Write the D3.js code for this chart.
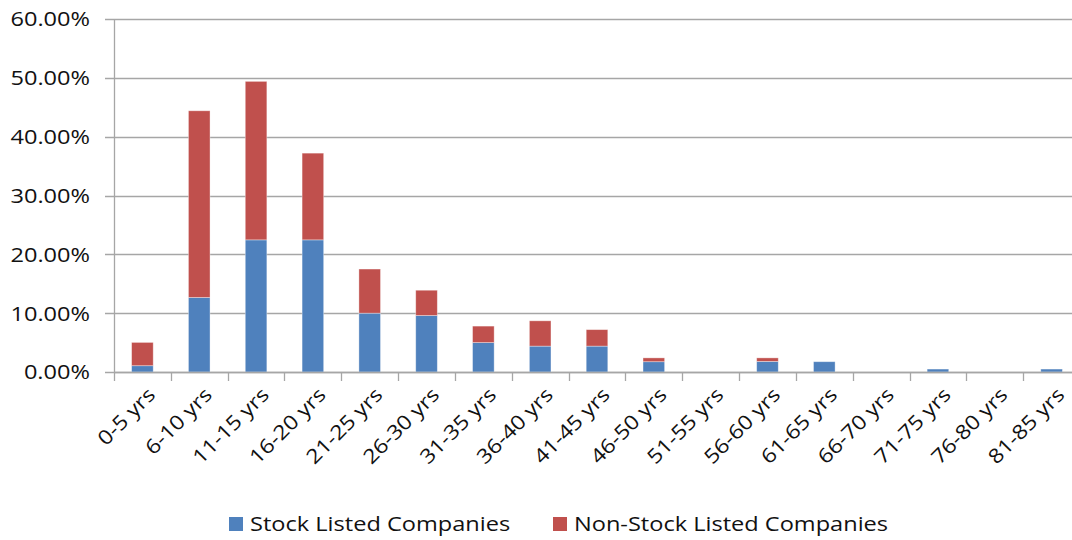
<!DOCTYPE html>
<html>
<head>
<meta charset="utf-8">
<script src="https://cdn.jsdelivr.net/npm/d3@7"></script>
<style>
  body { margin: 0; background: #fff; }
  text { font-family: "Open Sans", sans-serif; fill: #111; }
</style>
</head>
<body>
<div id="chart"></div>
<script>
// data (percent)
var categories = ["0-5 yrs", "6-10 yrs", "11-15 yrs", "16-20 yrs", "21-25 yrs", "26-30 yrs",
  "31-35 yrs", "36-40 yrs", "41-45 yrs", "46-50 yrs", "51-55 yrs", "56-60 yrs",
  "61-65 yrs", "66-70 yrs", "71-75 yrs", "76-80 yrs", "81-85 yrs"];
var stockListed = [1.07, 12.67, 22.46, 22.46, 10.0, 9.6, 5.0, 4.4, 4.4, 1.75, 0, 1.8, 1.75, 0, 0.5, 0, 0.5];
var nonStockListed = [3.96, 31.73, 26.94, 14.74, 7.5, 4.3, 2.8, 4.3, 2.8, 0.65, 0, 0.6, 0, 0, 0, 0, 0];
var seriesNames = ["Stock Listed Companies", "Non-Stock Listed Companies"];
var colors = ["#4f81bd", "#c0504d"];
var yTicks = [0, 10, 20, 30, 40, 50, 60];

// set the dimensions and margins of the graph
var W = 1072, H = 540;
var margin = {top: 19, left: 114, bottom: 372, right: 1080};
var sx = 1.15; // the picture's text is stretched sideways

var svg = d3.select("#chart").append("svg")
    .attr("width", W)
    .attr("height", H);

// set the ranges
var x = d3.scaleBand().domain(categories).range([margin.left, margin.right]).paddingInner(0.62).paddingOuter(0.31);
var xb = d3.scaleBand().domain(categories).range([margin.left, margin.right]);
var y = d3.scaleLinear().domain([0, 60]).range([margin.bottom, margin.top]);

// gridlines (with the little tick stubs left of the axis)
svg.append("g")
  .selectAll("line")
  .data(yTicks)
  .enter().append("line")
    .attr("x1", margin.left - 9)
    .attr("x2", W)
    .attr("y1", function(d) { return Math.round(y(d)) + 0.5; })
    .attr("y2", function(d) { return Math.round(y(d)) + 0.5; })
    .attr("stroke", "#a6a6a6")
    .attr("stroke-width", 1.3);

// y labels
svg.append("g")
  .selectAll("text")
  .data(yTicks)
  .enter().append("text")
    .attr("transform", function(d) { return "translate(90," + y(d) + ") scale(" + sx + ",1)"; })
    .attr("dy", "0.36em")
    .attr("text-anchor", "end")
    .style("font-size", "20.5px")
    .text(function(d) { return d3.format(".2f")(d) + "%"; });

// stack the data
var rows = categories.map(function(c, i) { return {cat: c, s: stockListed[i], n: nonStockListed[i]}; });
var stacked = d3.stack().keys(["s", "n"])(rows);

svg.append("g")
  .selectAll("g")
  .data(stacked)
  .enter().append("g")
    .attr("fill", function(d, i) { return colors[i]; })
  .selectAll("rect")
  .data(function(d) { return d; })
  .enter().append("rect")
    .attr("x", function(d) { return x(d.data.cat); })
    .attr("width", x.bandwidth())
    .attr("y", function(d) { return y(d[1]); })
    .attr("height", function(d) { return Math.max(0, y(d[0]) - y(d[1])); })
    .attr("stroke", "rgba(255,255,255,0.45)")
    .attr("stroke-width", 0.8);

// y axis line
svg.append("line")
    .attr("x1", margin.left + 0.5).attr("x2", margin.left + 0.5)
    .attr("y1", margin.top).attr("y2", margin.bottom)
    .attr("stroke", "#a6a6a6").attr("stroke-width", 1.3);

// x axis line and ticks between categories
var xAxis = svg.append("g");
xAxis.append("line")
    .attr("x1", margin.left).attr("x2", W)
    .attr("y1", Math.round(y(0)) + 0.5).attr("y2", Math.round(y(0)) + 0.5)
    .attr("stroke", "#a6a6a6").attr("stroke-width", 1.3);
xAxis.selectAll("line.tick")
  .data(categories)
  .enter().append("line")
    .attr("class", "tick")
    .attr("x1", function(d) { return Math.round(xb(d)) + 0.5; })
    .attr("x2", function(d) { return Math.round(xb(d)) + 0.5; })
    .attr("y1", margin.bottom)
    .attr("y2", margin.bottom + 9)
    .attr("stroke", "#a6a6a6").attr("stroke-width", 1.3);

// rotated x labels
xAxis.selectAll("text")
  .data(categories)
  .enter().append("text")
    .attr("transform", function(d) {
      return "translate(" + (xb(d) + xb.bandwidth() / 2 + 9) + "," + (margin.bottom + 19) + ") rotate(-45) scale(" + sx + ",1)";
    })
    .attr("text-anchor", "end")
    .attr("dy", "0.36em")
    .style("font-size", "20px")
    .text(function(d) { return d; });

// legend
var legendX = [229, 553];
var legend = svg.append("g")
  .selectAll("g")
  .data(seriesNames)
  .enter().append("g")
    .attr("transform", function(d, i) { return "translate(" + legendX[i] + ",524)"; });
legend.append("rect")
    .attr("x", 0).attr("y", -7)
    .attr("width", 14).attr("height", 14)
    .attr("fill", function(d, i) { return colors[i]; });
legend.append("text")
    .attr("transform", "translate(21,0) scale(" + sx + ",1)")
    .attr("dy", "0.36em")
    .style("font-size", "20.5px")
    .text(function(d) { return d; });
</script>
</body>
</html>
